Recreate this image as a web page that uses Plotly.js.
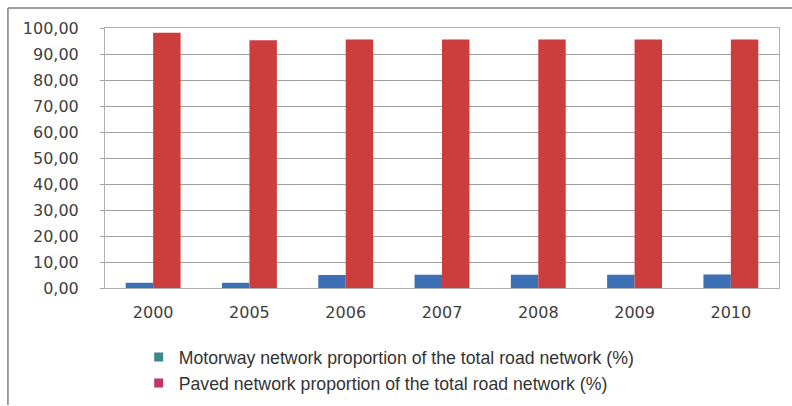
<!DOCTYPE html>
<html><head><meta charset="utf-8">
<script src="https://cdn.plot.ly/plotly-3.0.1.min.js"></script>
<style>html,body{margin:0;padding:0;background:#fff;}#chart{width:792px;height:406px;}</style>
</head><body><div id="chart"></div>
<script>
const years = ['2000','2005','2006','2007','2008','2009','2010'];
const motorway = [2.0, 2.0, 5.0, 5.1, 5.1, 5.1, 5.2];
const paved = [98.2, 95.3, 95.6, 95.6, 95.6, 95.6, 95.6];
const seriesNames = ['Motorway network proportion of the total road network (%)',
                     'Paved network proportion of the total road network (%)'];
const barColors = ['#3d6fb4', '#cc3d3d'];
const legendColors = ['#3a8a8a', '#c0336b'];

const traces = [
  {type:'bar', x:years, y:motorway, width:0.285, offset:-0.285, marker:{color:barColors[0]}, showlegend:false, hoverinfo:'y'},
  {type:'bar', x:years, y:paved, width:0.285, offset:0, marker:{color:barColors[1]}, showlegend:false, hoverinfo:'y'},
  {type:'scatter', mode:'markers', x:[null], y:[null], name:seriesNames[0],
   marker:{color:legendColors[0], symbol:'square', size:9}, showlegend:true},
  {type:'scatter', mode:'markers', x:[null], y:[null], name:seriesNames[1],
   marker:{color:legendColors[1], symbol:'square', size:9}, showlegend:true}
];
const layout = {
  width:792, height:406,
  margin:{l:105, r:13, t:28, b:118, autoexpand:false},
  paper_bgcolor:'#ffffff', plot_bgcolor:'#ffffff',
  separators:',.',
  barmode:'overlay',
  font:{family:'DejaVu Sans, Verdana, sans-serif', color:'#404040', size:16},
  xaxis:{type:'category', categoryarray:years, showgrid:false, showline:true, linecolor:'#b0b0b0', mirror:true,
         ticks:'', tickfont:{size:16, color:'#404040'}, ticklabelstandoff:10, fixedrange:true},
  yaxis:{range:[0,100], dtick:10, tickformat:'.2f', showgrid:true, gridcolor:'#a0a0a0',
         showline:true, linecolor:'#b0b0b0', mirror:true, zeroline:false, ticks:'outside', ticklen:4, tickcolor:'#a0a0a0',
         tickfont:{size:16, color:'#404040'}, ticklabelstandoff:18, fixedrange:true},
  legend:{orientation:'v', x:0.05, xanchor:'left', yref:'container', y:0.165, yanchor:'top', traceorder:'grouped',
          font:{family:'Liberation Sans, Arial, sans-serif', size:17.7, color:'#333333'},
          tracegroupgap:6, bgcolor:'rgba(0,0,0,0)'},
  shapes:[
    {type:'line', xref:'paper', yref:'paper', x0:-0.144, x1:1.03, y0:1.077, y1:1.077, line:{color:'#808080', width:1.5}},
    {type:'line', xref:'paper', yref:'paper', x0:-0.144, x1:-0.144, y0:1.077, y1:-0.45, line:{color:'#808080', width:1.5}}
  ]
};
Plotly.newPlot('chart', traces, layout, {displayModeBar:false, staticPlot:true});
</script></body></html>
